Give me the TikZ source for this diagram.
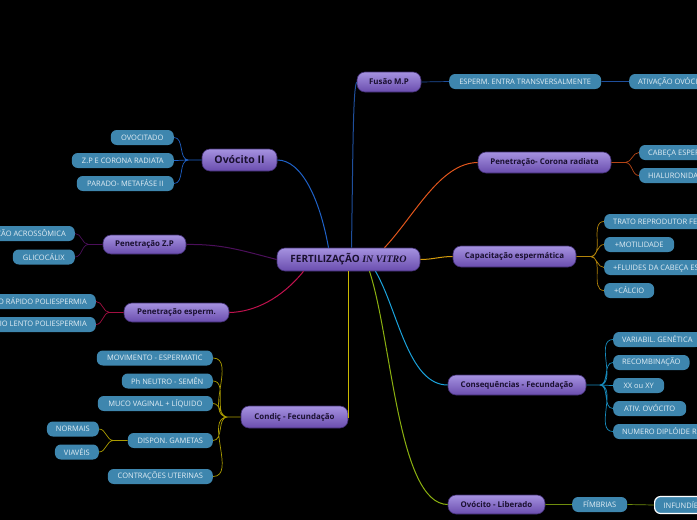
\documentclass[tikz,border=0pt]{standalone}
\usepackage{fontspec}
\setmainfont{Open Sans}
\newfontfamily\vitro{Liberation Serif}
\definecolor{topa}{HTML}{A592E0}
\definecolor{topb}{HTML}{6A4DAE}
\definecolor{topd}{HTML}{3E2C6E}
\definecolor{ink}{HTML}{1A1030}
\definecolor{leafc}{HTML}{3E86AE}
\definecolor{leaft}{HTML}{E2EEF5}
\definecolor{fusc}{HTML}{1F4F9C}
\definecolor{ovc}{HTML}{1F62C8}
\definecolor{zpc}{HTML}{4B0F5A}
\definecolor{pesc}{HTML}{C0124E}
\definecolor{condc}{HTML}{C9B800}
\definecolor{libc}{HTML}{8BB010}
\definecolor{consc}{HTML}{1BA3DC}
\definecolor{capc}{HTML}{D39B0C}
\definecolor{corc}{HTML}{E2561C}
\begin{document}
\begin{tikzpicture}[x=1pt,y=-1pt,
  topic/.style={rounded corners=8pt,top color=topa,bottom color=topb,draw=topd,line width=.6pt,
    text=ink,font=\fontsize{7.9}{9}\selectfont\bfseries,minimum height=20pt,inner sep=2pt},
  leaf/.style={rounded corners=6pt,fill=leafc,text=leaft,font=\fontsize{7.5}{8}\selectfont,
    minimum height=15pt,inner xsep=9pt,inner ysep=1pt},
  link/.style={line width=1pt},
  twig/.style={line width=.7pt}]
\useasboundingbox (0,0) rectangle (697,520);
\fill[black] (0,0) rectangle (697,520);
\clip (0,0) rectangle (697,520);

\node[topic,minimum width=143pt,minimum height=23pt,font=\fontsize{10}{11}\selectfont\bfseries] (fiv) at (348.5,259.5)
  {FERTILIZAÇÃO {\vitro\bfseries\itshape IN VITRO}};

\node[topic,minimum width=64pt] (fus) at (389,82) {Fusão M.P};
\node[topic,minimum width=75pt,minimum height=22pt,font=\fontsize{10.5}{11}\selectfont\bfseries] (ov2) at (239.5,160) {Ovócito II};
\node[topic,minimum width=83pt,minimum height=19pt] (pzp) at (144.5,244.5) {Penetração Z.P};
\node[topic,minimum width=105pt,minimum height=19pt] (pes) at (176.5,312.5) {Penetração esperm.};
\node[topic,minimum width=107pt,minimum height=22pt] (cond) at (294.5,417) {Condiç - Fecundação};
\node[topic,minimum width=97pt,minimum height=19pt] (lib) at (496.5,504.5) {Ovócito - Liberado};
\node[topic,minimum width=138pt] (cons) at (517,385) {Consequências - Fecundação};
\node[topic,minimum width=123pt,minimum height=21pt] (cap) at (514.5,256.5) {Capacitação espermática};
\node[topic,minimum width=133pt,minimum height=21pt] (cor) at (544.5,162.5) {Penetração- Corona radiata};

\node[leaf,anchor=west,minimum width=152pt] (ese) at (449,81.5) {ESPERM. ENTRA TRANSVERSALMENTE};
\node[leaf,anchor=west] (atv) at (629,81.5) {ATIVAÇÃO OVÓCITO};
\node[leaf,anchor=west] (cab) at (639,152.5) {CABEÇA ESPERMÁTICA};
\node[leaf,anchor=west] (hia) at (639,175.5) {HIALURONIDASE};
\node[leaf,anchor=west] (tra) at (604,221.5) {TRATO REPRODUTOR FEMININO};
\node[leaf,anchor=west,minimum width=70pt] (mot) at (604,244.5) {+MOTILIDADE};
\node[leaf,anchor=west] (flu) at (604,267.5) {+FLUIDES DA CABEÇA ESPERMÁTICA};
\node[leaf,anchor=west,minimum width=50pt] (cal) at (604,290.5) {+CÁLCIO};
\node[leaf,anchor=west] (var) at (613,339.5) {VARIABIL. GENÉTICA};
\node[leaf,anchor=west,minimum width=70pt] (rec) at (613,362.5) {RECOMBINAÇÃO};
\node[leaf,anchor=west,minimum width=51pt] (xxy) at (613,385.5) {XX ou XY};
\node[leaf,anchor=west,minimum width=73pt] (ati) at (613,408.5) {ATIV. OVÓCITO};
\node[leaf,anchor=west] (num) at (613,431.5) {NUMERO DIPLÓIDE RESTABELECIDO};
\node[leaf,anchor=west,minimum width=55pt] (fim) at (572,504.5) {FÍMBRIAS};
\node[leaf,anchor=west,minimum height=17pt,draw=white,line width=1.2pt] (inf) at (654,505) {INFUNDÍBULO};

\node[leaf,anchor=east,minimum width=63pt] (ovt) at (174,137.5) {OVOCITADO};
\node[leaf,anchor=east,minimum width=102pt] (zpr) at (174,160.5) {Z.P E CORONA RADIATA};
\node[leaf,anchor=east,minimum width=97pt] (par) at (174,183.5) {PARADO- METAFÁSE II};
\node[leaf,anchor=east] (rea) at (75,233.5) {REAÇÃO ACROSSÔMICA};
\node[leaf,anchor=east,minimum width=62pt] (gli) at (75,257) {GLICOCÁLIX};
\node[leaf,anchor=east] (blr) at (96,301.5) {BLOQUEIO RÁPIDO POLIESPERMIA};
\node[leaf,anchor=east] (bll) at (96,324.5) {BLOQUEIO LENTO POLIESPERMIA};
\node[leaf,anchor=east,minimum width=116pt] (mov) at (213,358) {MOVIMENTO - ESPERMATIC};
\node[leaf,anchor=east,minimum width=91pt] (phn) at (213,381) {Ph NEUTRO - SEMÊN};
\node[leaf,anchor=east,minimum width=115pt] (muc) at (213,403.5) {MUCO VAGINAL + LÍQUIDO};
\node[leaf,anchor=east,minimum width=85pt] (dis) at (213,440.5) {DISPON. GAMETAS};
\node[leaf,anchor=east,minimum width=105pt] (con) at (213,476.5) {CONTRAÇÕES UTERINAS};
\node[leaf,anchor=east,minimum width=50pt] (nor) at (99,429) {NORMAIS};
\node[leaf,anchor=east,minimum width=43pt] (via) at (99,452) {VIAVÉIS};

\draw[link,fusc] ([xshift=3pt]fiv.north) .. controls (353,150) and (353,88) .. (fus.west);
\draw[link,ovc] ([xshift=-20pt]fiv.north) .. controls (320,200) and (302,160) .. (ov2.east);
\draw[link,corc] ([xshift=36pt]fiv.north) .. controls (415,215) and (440,163) .. (cor.west);
\draw[link,capc] (fiv.east) to[out=0,in=180] (cap.west);
\draw[link,zpc] (fiv.west) .. controls (240,250) and (222,244) .. (pzp.east);
\draw[link,pesc] ([xshift=-45pt]fiv.south) .. controls (282,298) and (255,312) .. (pes.east);
\draw[link,condc] (fiv.south) |- (cond.east);
\draw[link,consc] ([xshift=27pt]fiv.south) .. controls (398,310) and (408,385) .. (cons.west);
\draw[link,libc] ([xshift=21pt]fiv.south) .. controls (392,340) and (398,504) .. (lib.west);

\coordinate (ov2f) at ([xshift=-13pt]ov2.west);
\coordinate (pzpf) at ([xshift=-14pt]pzp.west);
\coordinate (pesf) at ([xshift=-14pt]pes.west);
\coordinate (condf) at ([xshift=-13pt]cond.west);
\coordinate (disf) at ([xshift=-14pt]dis.west);
\coordinate (corf) at ([xshift=14pt]cor.east);
\coordinate (capf) at ([xshift=14pt]cap.east);
\coordinate (consf) at ([xshift=13pt]cons.east);

\draw[twig,fusc] (fus.east) -- (ese.west) (ese.east) -- (atv.west);
\draw[twig,libc!80!black] (lib.east) -- (fim.west) (fim.east) -- (inf.west);
\draw[twig,ovc] (ov2.west) -- (ov2f) to[out=180,in=0] (ovt.east) (ov2f) to[out=180,in=0] (zpr.east)
  (ov2f) to[out=180,in=0] (par.east);
\draw[twig,zpc] (pzp.west) -- (pzpf) to[out=180,in=0] (rea.east) (pzpf) to[out=180,in=0] (gli.east);
\draw[twig,pesc!85!black] (pes.west) -- (pesf) to[out=180,in=0] (blr.east) (pesf) to[out=180,in=0] (bll.east);
\draw[twig,condc!85!black] (cond.west) -- (condf) to[out=180,in=0] (mov.east) (condf) to[out=180,in=0] (phn.east)
  (condf) to[out=180,in=0] (muc.east) (condf) to[out=180,in=0] (dis.east) (condf) to[out=180,in=0] (con.east);
\draw[twig,condc!85!black] (dis.west) -- (disf) to[out=180,in=0] (nor.east) (disf) to[out=180,in=0] (via.east);
\draw[twig,corc!80!black] (cor.east) -- (corf) to[out=0,in=180] (cab.west) (corf) to[out=0,in=180] (hia.west);
\draw[twig,capc!85!black] (cap.east) -- (capf) to[out=0,in=180] (tra.west) (capf) to[out=0,in=180] (mot.west)
  (capf) to[out=0,in=180] (flu.west) (capf) to[out=0,in=180] (cal.west);
\draw[twig,consc!85!black] (cons.east) -- (consf) to[out=0,in=180] (var.west) (consf) to[out=0,in=180] (rec.west)
  (consf) to[out=0,in=180] (xxy.west) (consf) to[out=0,in=180] (ati.west) (consf) to[out=0,in=180] (num.west);
\end{tikzpicture}
\end{document}
